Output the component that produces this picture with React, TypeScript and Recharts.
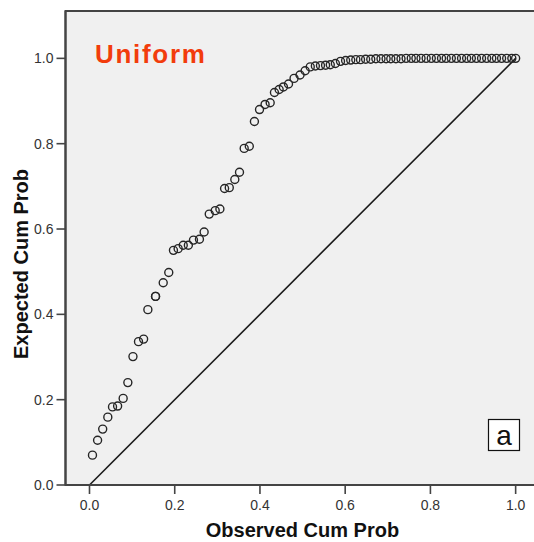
import {
  ScatterChart,
  Scatter,
  XAxis,
  YAxis,
  CartesianGrid,
  ReferenceLine,
  ReferenceArea,
  Label,
} from "recharts";

const FONT = "'Liberation Sans', Arial, Helvetica, sans-serif";

const observed = [
  0.007, 0.019, 0.031, 0.043, 0.054, 0.066, 0.079, 0.09, 0.102, 0.115,
  0.127, 0.137, 0.155, 0.155, 0.173, 0.186, 0.197, 0.208, 0.22, 0.232,
  0.244, 0.258, 0.269, 0.281, 0.295, 0.306, 0.317, 0.328, 0.341, 0.352,
  0.363, 0.375, 0.387, 0.399, 0.412, 0.424, 0.434, 0.445, 0.455, 0.467,
  0.48, 0.494, 0.506, 0.518,
  0.53, 0.542, 0.554, 0.565, 0.577, 0.589, 0.601, 0.613, 0.625, 0.636,
  0.648, 0.66, 0.672, 0.684, 0.696, 0.707, 0.719, 0.731, 0.743, 0.755,
  0.766, 0.778, 0.79, 0.802, 0.814, 0.826, 0.837, 0.849, 0.861, 0.873,
  0.885, 0.896, 0.908, 0.92, 0.932, 0.944, 0.955, 0.967, 0.979, 0.991,
  1.0,
];

// expected cumulative probability (y)
const expected = [
  0.07, 0.105, 0.131, 0.159, 0.183, 0.185, 0.203, 0.24, 0.301, 0.336,
  0.342, 0.411, 0.442, 0.442, 0.474, 0.498, 0.55, 0.554, 0.562, 0.562,
  0.574, 0.576, 0.593, 0.635, 0.643, 0.647, 0.695, 0.697, 0.716, 0.733,
  0.789, 0.794, 0.852, 0.88, 0.892, 0.896, 0.92, 0.927, 0.933, 0.94,
  0.953, 0.961, 0.971, 0.98,
  0.982, 0.983, 0.984, 0.985, 0.988, 0.993, 0.995, 0.996, 0.997, 0.997,
  0.998, 0.998, 0.999, 0.999, 0.999, 0.999, 0.999, 0.999, 1.0, 1.0,
  1.0, 1.0, 1.0, 1.0, 1.0, 1.0, 1.0, 1.0, 1.0, 1.0,
  1.0, 1.0, 1.0, 1.0, 1.0, 1.0, 1.0, 1.0, 1.0, 1.0,
  1.0,
];

const xTicks = [0, 0.2, 0.4, 0.6, 0.8, 1.0];
const yTicks = [0, 0.2, 0.4, 0.6, 0.8, 1.0];

const X_DOMAIN = [-0.0563, 1.09];
const Y_DOMAIN = [0, 1.111];

const data = observed.map((x, i) => ({ x, y: expected[i] }));

const tickStyle = { fontSize: 14, fill: "#333", fontFamily: FONT };
const titleStyle = { fontSize: 20, fontWeight: 700, fill: "#111", fontFamily: FONT };

function Ring(props: any) {
  const { cx, cy } = props;
  return <circle cx={cx} cy={cy} r={4} fill="none" stroke="#262626" strokeWidth={1.4} />;
}

// frame annotations: panel title and the "a" box
function Annotations() {
  return (
    <g>
      <text
        x={95}
        y={63}
        fill="#f23c0c"
        fontSize={26}
        fontWeight={700}
        letterSpacing={1.7}
        fontFamily={FONT}
      >
        Uniform
      </text>
      <rect x={488.5} y={419.5} width={31} height={31} fill="#fff" stroke="#111" strokeWidth={1.2} />
      <text x={504} y={445} textAnchor="middle" fontSize={28} fill="#111" fontFamily={FONT}>
        a
      </text>
    </g>
  );
}

export default function App() {
  return (
    <div
      style={{
        position: "absolute",
        left: 0,
        top: 0,
        width: 534,
        height: 542,
        overflow: "hidden",
        background: "#fff",
      }}
    >
      <ScatterChart
        width={560}
        height={542}
        margin={{ top: 11, right: 6, bottom: 0, left: 0 }}
      >
        <CartesianGrid fill="#f0f0f0" horizontal={false} vertical={false} />
        <XAxis
          type="number"
          dataKey="x"
          domain={X_DOMAIN}
          ticks={xTicks}
          allowDataOverflow
          height={57}
          tick={tickStyle}
          tickSize={9}
          tickMargin={6}
          tickFormatter={(v) => v.toFixed(1)}
          axisLine={{ stroke: "#444", strokeWidth: 2 }}
          tickLine={{ stroke: "#444", strokeWidth: 1.6 }}
        >
          <Label
            content={() => (
              <text x={302.5} y={537} textAnchor="middle" {...titleStyle}>
                Observed Cum Prob
              </text>
            )}
          />
        </XAxis>
        <YAxis
          type="number"
          dataKey="y"
          domain={Y_DOMAIN}
          ticks={yTicks}
          allowDataOverflow
          width={65.5}
          tick={tickStyle}
          tickSize={9}
          tickMargin={3}
          tickFormatter={(v) => v.toFixed(1)}
          axisLine={{ stroke: "#444", strokeWidth: 2 }}
          tickLine={{ stroke: "#444", strokeWidth: 1.6 }}
        >
          <Label
            content={() => (
              <text
                x={27.5}
                y={264}
                textAnchor="middle"
                transform="rotate(-90 27.5 264)"
                {...titleStyle}
              >
                Expected Cum Prob
              </text>
            )}
          />
        </YAxis>
        <ReferenceArea
          x1={X_DOMAIN[0]}
          x2={X_DOMAIN[1]}
          y1={Y_DOMAIN[0]}
          y2={Y_DOMAIN[1]}
          fill="none"
          stroke="#444"
          strokeWidth={2}
          fillOpacity={0}
          ifOverflow="visible"
        >
          <Label content={() => <Annotations />} />
        </ReferenceArea>
        <ReferenceLine
          segment={[
            { x: 0, y: 0 },
            { x: 1, y: 1 },
          ]}
          stroke="#1a1a1a"
          strokeWidth={1.6}
          ifOverflow="visible"
        />
        <Scatter data={data} shape={Ring} isAnimationActive={false} />
      </ScatterChart>
    </div>
  );
}
